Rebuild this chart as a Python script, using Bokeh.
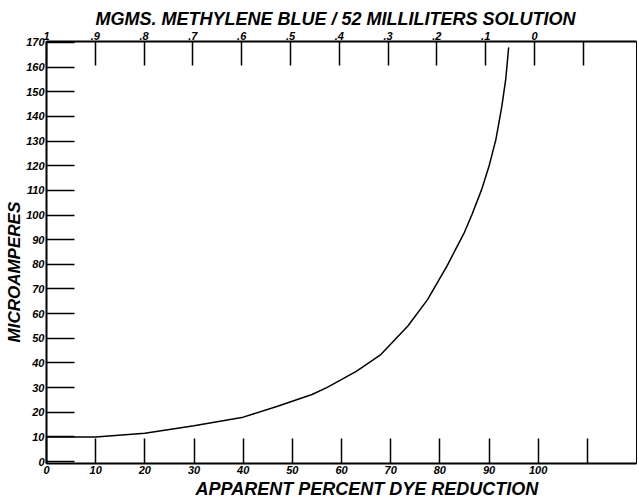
from bokeh.plotting import figure
from bokeh.models import Range1d, LinearAxis, FixedTicker, Title
from bokeh.embed import file_html
from bokeh.resources import INLINE

# ---- data ----
pct_reduction = [0, 10, 20, 30, 40, 47, 54, 57, 63, 68, 73.5, 77.5, 81.5, 85, 86.5,
                 88.5, 90, 91.4, 92.6, 93.4, 94]
microamperes = [10, 10, 11.5, 14.5, 18, 22.4, 27.2, 30, 36.6, 43.4, 55, 65.7, 79.5, 93, 100,
                110.3, 119.8, 130.6, 144, 155, 168]

bottom_ticks = [0, 10, 20, 30, 40, 50, 60, 70, 80, 90, 100, 110]
bottom_labels = ["0", "10", "20", "30", "40", "50", "60", "70", "80", "90", "100", ""]

top_ticks = [10, 9, 8, 7, 6, 5, 4, 3, 2, 1, 0, -1]  # tenths of mg
top_labels = ["1", ".9", ".8", ".7", ".6", ".5", ".4", ".3", ".2", ".1", "0", ""]

left_ticks = [0, 10, 20, 30, 40, 50, 60, 70, 80, 90, 100, 110, 120, 130, 140, 150, 160, 170]
left_labels = [str(t) for t in left_ticks]

title_top = "MGMS. METHYLENE BLUE / 52 MILLILITERS SOLUTION"
title_bottom = "APPARENT PERCENT DYE REDUCTION"
title_left = "MICROAMPERES"

FONT = "Liberation Sans"

p = figure(frame_width=590, frame_height=422, output_backend="svg", toolbar_location=None,
           x_range=Range1d(0, 120), y_range=Range1d(-0.8, 170.4),
           x_axis_type=None, y_axis_type=None,
           min_border_left=46, min_border_right=1, min_border_top=41, min_border_bottom=35)
p.xgrid.visible = False
p.ygrid.visible = False
p.outline_line_color = "black"
p.outline_line_width = 1
p.background_fill_color = "white"
p.border_fill_color = "white"

p.extra_x_ranges = {"top": Range1d(10, 10 - 12.09)}


def style(ax, ticks, labels, tick_in):
    ax.ticker = FixedTicker(ticks=ticks)
    ax.major_label_overrides = {t: l for t, l in zip(ticks, labels)}
    ax.minor_tick_line_color = None
    ax.major_tick_in = tick_in
    ax.major_tick_out = 0
    ax.major_tick_line_width = 1.5
    ax.major_tick_line_color = "black"
    ax.axis_line_width = 2
    ax.axis_line_color = "black"
    ax.major_label_text_font = FONT
    ax.major_label_text_font_style = "bold italic"
    ax.major_label_text_font_size = "11px"
    ax.major_label_text_color = "black"
    ax.major_label_standoff = 2


bottom = LinearAxis()
style(bottom, bottom_ticks, bottom_labels, 25)
p.add_layout(bottom, "below")

top = LinearAxis(x_range_name="top")
style(top, top_ticks, top_labels, 24)
p.add_layout(top, "above")

left = LinearAxis()
style(left, left_ticks, left_labels, 28)
p.add_layout(left, "left")

p.line(pct_reduction, microamperes, line_color="black", line_width=1.5)

p.add_layout(Title(text=title_bottom, align="left", offset=149, standoff=0,
                   text_font=FONT, text_font_style="bold italic",
                   text_font_size="18px", text_color="black"), "below")
p.add_layout(Title(text=title_top, align="left", offset=49, standoff=0,
                   text_font=FONT, text_font_style="bold italic",
                   text_font_size="18px", text_color="black"), "above")
p.add_layout(Title(text=title_left, align="left", offset=121, standoff=0,
                   text_font=FONT, text_font_style="bold italic",
                   text_font_size="17px", text_color="black"), "left")

open("out.html", "w").write(file_html(p, INLINE))
